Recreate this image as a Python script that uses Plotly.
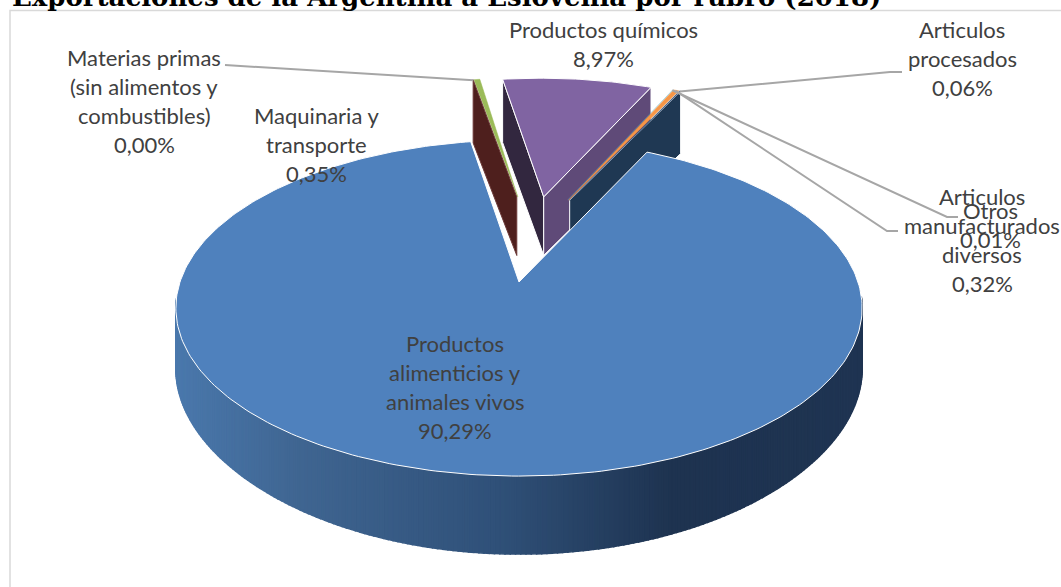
import numpy as np
import plotly.graph_objects as go

# slices in drawing order round the pie, clockwise
slice_names = [
    "Productos alimenticios y animales vivos",
    "Materias primas (sin alimentos y combustibles)",
    "Maquinaria y transporte",
    "Productos químicos",
    "Otros",
    "Articulos manufacturados diversos",
    "Articulos procesados",
]
slice_values = [90.29, 0.00, 0.35, 8.97, 0.01, 0.32, 0.06]
top_colors = ["#4F81BD", "#C0504D", "#9BBB59", "#8064A2", "#4BACC6", "#F79646", "#2C4D75"]

title_text = "Exportaciones de la Argentina a Eslovenia por rubro (2018)"

# label text, one entry per line: (centre x, first line y, lines)
labels = [
    (603.5, 29, ["Productos químicos", "8,97%"]),
    (962, 29, ["Articulos", "procesados", "0,06%"]),
    (144, 57, ["Materias primas", "(sin alimentos y", "combustibles)", "0,00%"]),
    (316, 115, ["Maquinaria y", "transporte", "0,35%"]),
    (982, 196, ["Articulos", "manufacturados", "diversos", "0,32%"]),
    (990, 210, ["Otros", "0,01%"]),
    (455, 343, ["Productos", "alimenticios y", "animales vivos", "90,29%"]),
]
LINE_STEP = 29

# 3-D look of the pie: perspective of the top face and of the lower rim
FIRST_ANGLE = 25.5
EXPLODE = 0.285
SMALL_RADIUS = 0.975
X0, Y0, A, B, K = 519, 282, 339, 164, 0.155
Y0_LOW, B_LOW, K_LOW = 341.6, 170, 0.2


def direction(deg):
    rad = np.radians(deg)
    return np.sin(rad), np.cos(rad)


def top_xy(px, py):
    q = 1 + K * py
    return X0 + A * px / q, Y0 - B * py / q


def low_y(py):
    return Y0_LOW - B_LOW * py / (1 + K_LOW * py)


def poly(xs, ys, fill, line="white", width=1.0):
    return go.Scatter(
        x=list(xs), y=list(ys), mode="lines", fill="toself", fillcolor=fill,
        line=dict(color=line, width=width), hoverinfo="skip", showlegend=False,
    )


def mix(stops, x):
    r = np.interp(x, [s[0] for s in stops], [s[1][0] for s in stops])
    g = np.interp(x, [s[0] for s in stops], [s[1][1] for s in stops])
    b = np.interp(x, [s[0] for s in stops], [s[1][2] for s in stops])
    return f"rgb({r:.0f},{g:.0f},{b:.0f})"


# slice angles come from the values
spans = [v * 3.6 for v in slice_values]
starts = [FIRST_ANGLE + sum(spans[:i]) for i in range(len(spans))]
mids = [s + w / 2 for s, w in zip(starts, spans)]
cx = -EXPLODE * direction(mids[0])[0]
cy = -EXPLODE * direction(mids[0])[1]
apexes = [(cx + EXPLODE * direction(m)[0], cy + EXPLODE * direction(m)[1]) for m in mids]


def radius(i):
    return 1 if i == 0 else SMALL_RADIUS


def top_face(i):
    ax, ay = apexes[i]
    r = radius(i)
    deg = np.linspace(starts[i], starts[i] + spans[i], max(2, int(spans[i]) + 2))
    px = np.concatenate([[ax], ax + r * np.sin(np.radians(deg)), [ax]])
    py = np.concatenate([[ay], ay + r * np.cos(np.radians(deg)), [ay]])
    return top_xy(px, py)


def cut_face(i, deg):
    ax, ay = apexes[i]
    r = radius(i)
    dx, dy = direction(deg)
    px = np.array([ax, ax + r * dx])
    py = np.array([ay, ay + r * dy])
    x, y = top_xy(px, py)
    low = low_y(py)
    return [x[0], x[1], x[1], x[0], x[0]], [y[0], y[1], low[1], low[0], y[0]]


fig = go.Figure()

# purple slice, furthest back
fig.add_trace(poly(*cut_face(3, starts[3]), "#32273F"))
fig.add_trace(poly(*cut_face(3, starts[3] + spans[3]), "#5F4A78"))
fig.add_trace(poly(*top_face(3), top_colors[3]))

# the small slices on the left of it
fig.add_trace(poly(*top_face(2), top_colors[2], line=top_colors[2], width=0.5))
fig.add_trace(poly(*cut_face(1, starts[1]), "#4E1F1D", line="#6d3a38"))

# the small slices on the right of it
fig.add_trace(poly(*cut_face(6, starts[6] + spans[6]), "#1F3853"))
fig.add_trace(poly(*top_face(4), top_colors[4], line=top_colors[4], width=0.3))
fig.add_trace(poly(*top_face(5), top_colors[5], line=top_colors[5], width=0.5))
fig.add_trace(poly(*top_face(6), top_colors[6], line=top_colors[6], width=0.3))

# rim of the big slice, as narrow strips to get the gradient
rim_stops = [
    (176, (74, 120, 172)), (300, (63, 101, 145)), (500, (47, 80, 120)),
    (670, (30, 51, 80)), (862, (31, 52, 82)),
]
rim_deg = np.arange(95, 265, 0.75)
for d0, d1 in zip(rim_deg[:-1], rim_deg[1:]):
    dx0, dy0 = direction(d0)
    dx1, dy1 = direction(d1)
    x0, y0 = top_xy(dx0, dy0)
    x1, y1 = top_xy(dx1, dy1)
    color = mix(rim_stops, (x0 + x1) / 2)
    fig.add_trace(poly([x0, x1, x1, x0, x0], [y0, y1, low_y(dy1), low_y(dy0), y0], color, line=color, width=1.5))

fig.add_trace(poly(*top_face(0), top_colors[0]))

# leader lines, from the label to the tip of its slice
def tip(i, r=0.97):
    dx, dy = direction(starts[i] + spans[i] / 2)
    return top_xy(apexes[i][0] + r * dx, apexes[i][1] + r * dy)


leaders = [
    (1, [(225, 65)]),
    (6, [(902, 72), (890, 72)]),
    (4, [(958, 217), (947, 217)]),
    (5, [(898, 231), (887, 231)]),
]
for i, pts in leaders:
    tx, ty = tip(i)
    fig.add_trace(go.Scatter(
        x=[p[0] for p in pts] + [tx], y=[p[1] for p in pts] + [ty], mode="lines",
        line=dict(color="#A6A6A6", width=2), hoverinfo="skip", showlegend=False,
    ))

for x, y, lines in labels:
    for n, text in enumerate(lines):
        fig.add_annotation(
            x=x, y=y + n * LINE_STEP, text=text, showarrow=False,
            font=dict(family="Lato", size=22, color="#404040"),
        )

# title runs off the top of the page in the original
fig.add_annotation(
    xref="paper", yref="paper", x=0.0095, y=1, yanchor="bottom", xanchor="left", yshift=-14,
    text=f"<b>{title_text}</b>", showarrow=False,
    font=dict(family="DejaVu Serif", size=26, color="black"),
)

# chart frame
fig.add_shape(type="rect", x0=10, y0=10.5, x1=1070, y1=600, line=dict(color="#D9D9D9", width=1.5), layer="below")

fig.update_layout(
    width=1061, height=587, margin=dict(l=0, r=0, t=0, b=0),
    paper_bgcolor="white", plot_bgcolor="white", showlegend=False,
    xaxis=dict(range=[0, 1061], visible=False, fixedrange=True),
    yaxis=dict(range=[587, 0], visible=False, fixedrange=True),
)

fig.write_html(
    "out.html", config={"displayModeBar": False},
    post_script="document.body.style.margin='0';document.body.style.overflow='hidden';",
)
